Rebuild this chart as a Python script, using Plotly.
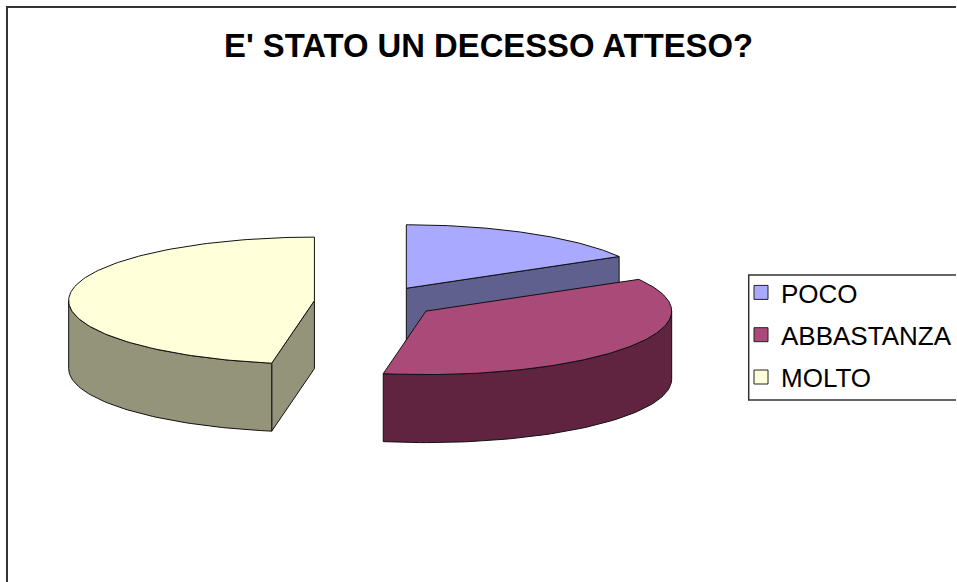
import numpy as np
import plotly.graph_objects as go

# Survey answers to "was the death expected?"
categories = ["POCO", "ABBASTANZA", "MOLTO"]
counts = [6, 13, 17]
top_colors = ["#A9A9FF", "#A94A78", "#FFFFDA"]
side_colors = ["#60608F", "#602440", "#94947A"]

# Oblique projection of the pie, in page pixels
CENTER_X, CENTER_Y = 376, 302
RADIUS_X, RADIUS_Y = 246, 63.5
DEPTH = 68
EXPLODE = 0.25


def rim(cx, cy, angles_deg, drop=0.0):
    """Screen points on the pie rim; angles run clockwise from 12 o'clock."""
    t = np.radians(angles_deg)
    return cx + RADIUS_X * np.sin(t), cy - RADIUS_Y * np.cos(t) + drop


def polygon_trace(xs, ys, color):
    return go.Scatter(
        x=np.append(xs, xs[0]), y=np.append(ys, ys[0]),
        mode="lines", fill="toself", fillcolor=color,
        line=dict(color="#111111", width=1), showlegend=False, hoverinfo="skip",
    )


fig = go.Figure()

start = 0.0
total = sum(counts)
for name, count, top, side in zip(categories, counts, top_colors, side_colors):
    end = start + 360.0 * count / total
    mid = np.radians((start + end) / 2)
    cx = CENTER_X + EXPLODE * RADIUS_X * np.sin(mid)
    cy = CENTER_Y - EXPLODE * RADIUS_Y * np.cos(mid)

    # Radial cut faces that turn toward the viewer
    for edge, normal in ((start, start - 90), (end, end + 90)):
        if np.cos(np.radians(normal)) < -1e-6:
            ex, ey = rim(cx, cy, np.array([edge]))
            xs = np.array([cx, ex[0], ex[0], cx])
            ys = np.array([cy, ey[0], ey[0] + DEPTH, cy + DEPTH])
            fig.add_trace(polygon_trace(xs, ys, side))

    # Outer wall: only the front half of the rim is visible
    lo, hi = max(start, 90.0), min(end, 270.0)
    if hi > lo:
        arc = np.linspace(lo, hi, 60)
        tx, ty = rim(cx, cy, arc)
        bx, by = rim(cx, cy, arc[::-1], DEPTH)
        fig.add_trace(polygon_trace(np.r_[tx, bx], np.r_[ty, by], side))

    # Top surface
    arc = np.linspace(start, end, 120)
    tx, ty = rim(cx, cy, arc)
    fig.add_trace(polygon_trace(np.r_[cx, tx], np.r_[cy, ty], top))

    start = end

# Legend swatches
for name, top in zip(categories, top_colors):
    fig.add_trace(go.Scatter(
        x=[None], y=[None], mode="markers", name=name, legendgroup=name,
        marker=dict(symbol="square", size=14, color=top,
                    line=dict(color="#222222", width=1)),
    ))

fig.update_layout(
    width=957, height=582,
    margin=dict(l=0, r=0, t=0, b=0),
    paper_bgcolor="white", plot_bgcolor="white",
    font=dict(family="Liberation Sans, Arial, sans-serif", color="black"),
    title=dict(text="<b>E' STATO UN DECESSO ATTESO?</b>",
               font=dict(size=32.8, color="black"),
               x=488.5 / 957, xanchor="center", y=1 - 45.5 / 582, yanchor="middle"),
    xaxis=dict(range=[0, 957], visible=False, domain=[0, 1]),
    yaxis=dict(range=[582, 0], visible=False, domain=[0, 1]),
    showlegend=True,
    legend=dict(x=742 / 957, xanchor="left", y=1 - 269 / 582, yanchor="top",
                bgcolor="rgba(0,0,0,0)", borderwidth=0,
                font=dict(size=26, color="black"),
                tracegroupgap=5.5, itemclick=False, itemdoubleclick=False),
    shapes=[
        dict(type="rect", xref="x", yref="y", x0=7, y0=7, x1=1100, y1=800,
             line=dict(color="#333333", width=2), layer="below"),
        dict(type="rect", xref="x", yref="y", x0=749.5, y0=275, x1=1100, y1=400,
             line=dict(color="#333333", width=1.5), layer="below"),
    ],
)

fig.write_html("out.html")
